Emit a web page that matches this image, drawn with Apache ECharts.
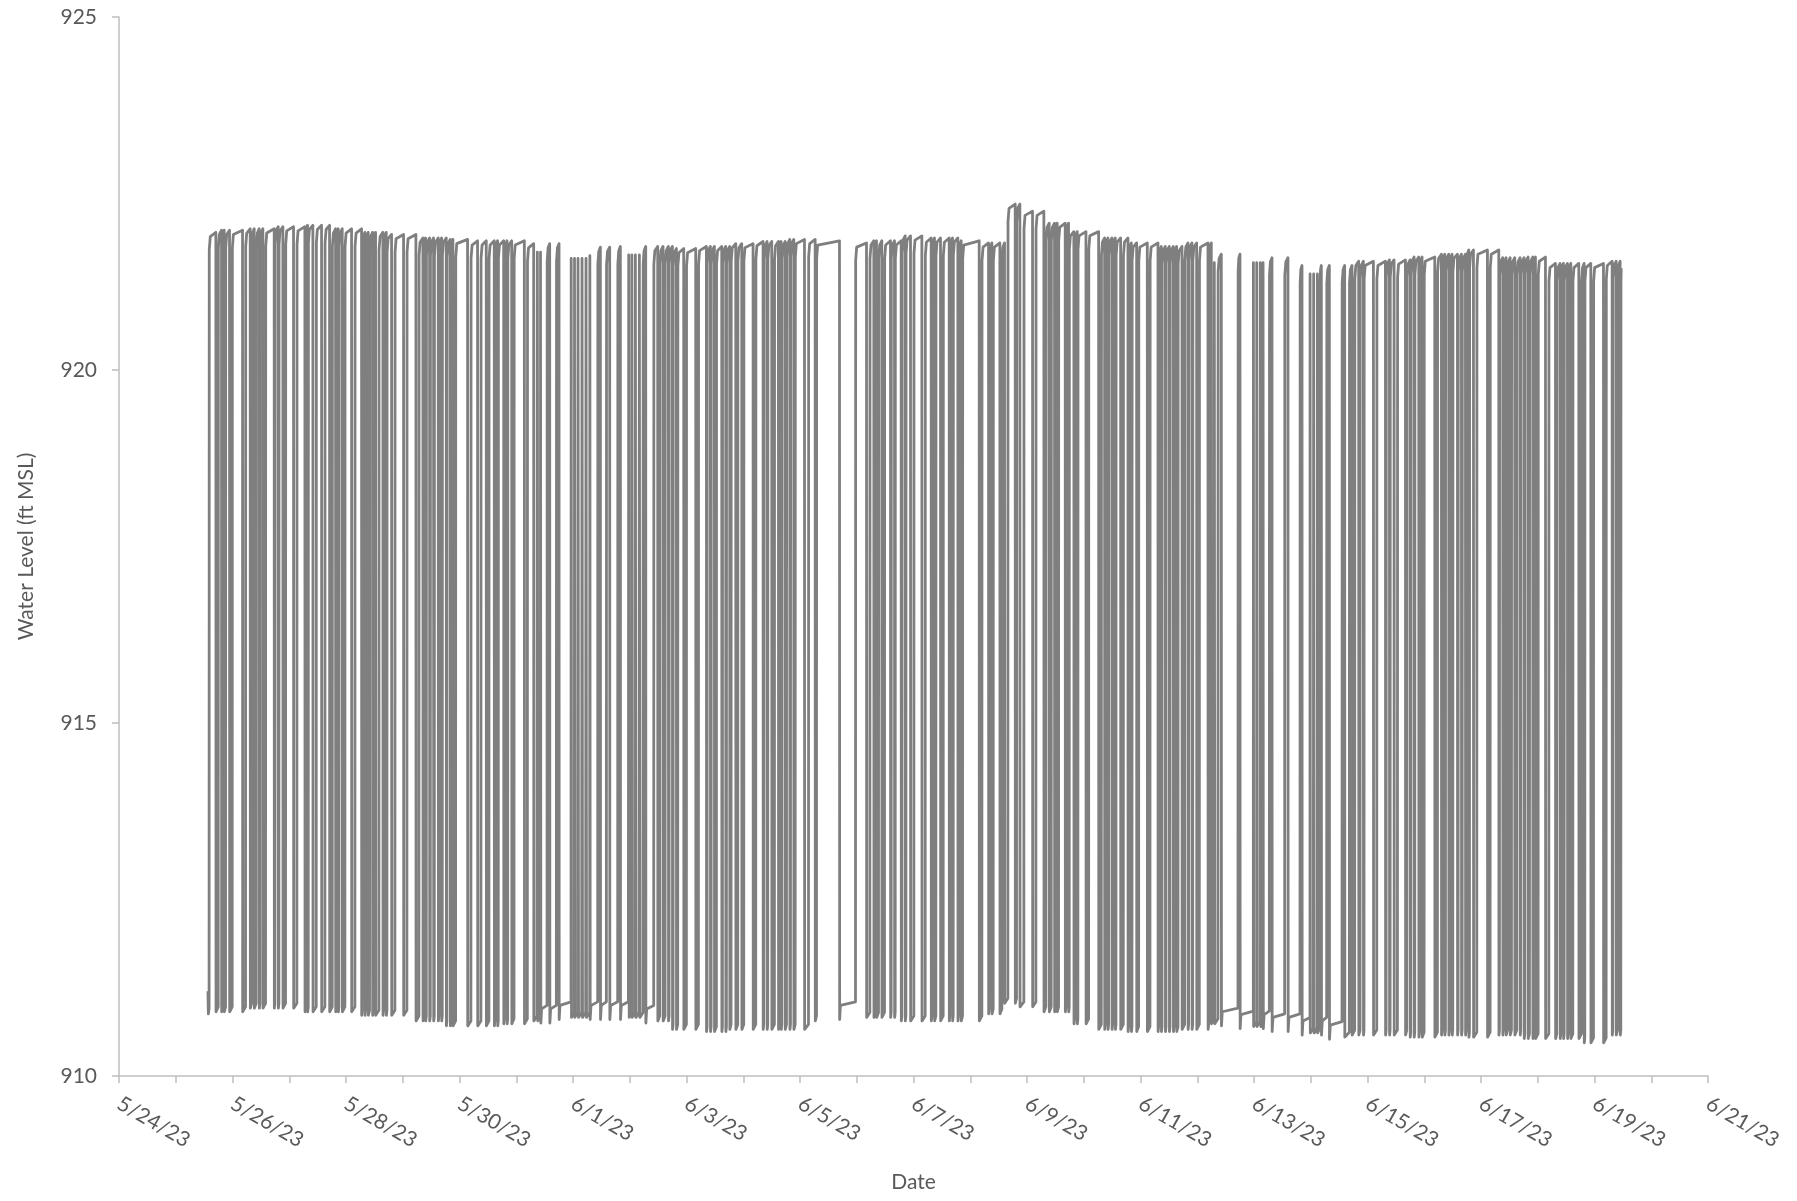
<!DOCTYPE html>
<html>
<head>
<meta charset="utf-8">
<script src="https://cdn.jsdelivr.net/npm/echarts@6/dist/echarts.min.js"></script>
<style>
html,body{margin:0;padding:0;background:#fff;}
#chart{width:1797px;height:1201px;}
</style>
</head>
<body>
<div id="chart"></div>
<script>
// Tick labels (x axis: one every 2 days from 5/24/23, hours since 5/24/23 00:00)
const dateLabels = ['5/24/23','5/26/23','5/28/23','5/30/23','6/1/23','6/3/23','6/5/23','6/7/23','6/9/23','6/11/23','6/13/23','6/15/23','6/17/23','6/19/23','6/21/23'];
const yTicks = [910, 915, 920, 925];

// Record start (hours since 5/24/23 00:00) and first recovery
const startHour = 37.6;
const startLevel = 911.2;
const firstRise = 38.1;
const endHour = 635.3;

// Pumping drawdown periods: start / end (hours since 5/24/23 00:00)
const dipStart = [
40.96,43.36,44.48,46.74,52.24,55.48,57.17,59.29,60.84,65.63,67.33,69.30,73.81,78.61,79.73,81.99,85.66,89.04,91.58,92.71,
94.40,98.35,102.58,103.99,105.40,107.23,108.50,111.60,113.01,115.27,120.34,125.56,128.52,129.65,131.34,133.03,135.01,136.42,138.39,140.08,
141.21,147.41,151.64,155.31,158.69,160.10,162.68,164.09,166.07,171.42,
175.37,177.06,178.33,182.14,186.09,191.30,192.71,194.27,195.96,197.65,199.20,203.57,207.52,212.03,215.70,216.97,218.52,220.21,222.75,
227.82,230.08,232.34,234.03,235.72,238.82,243.90,248.41,250.10,251.79,254.90,256.59,258.28,260.82,263.36,268.15,272.38,274.07,276.05,278.87,
280.02,281.72,283.69,285.38,289.89,294.41,304.70,316.12,319.22,320.35,322.60,326.27,327.96,330.78,332.48,334.73,339.53,343.47,344.88,347.42,
351.09,352.50,354.75,356.16,363.78,367.73,369.14,372.52,374.49,379.01,380.98,386.34,391.13,393.39,395.64,396.77,400.16,401.57,403.82,405.23,
408.93,414.29,416.82,418.23,419.93,421.34,423.59,426.69,428.10,430.36,434.87,439.38,440.79,442.49,444.18,445.87,447.28,449.54,452.07,453.77,
455.74,460.53,
461.94,463.35,466.17,474.07,479.78,481.19,482.81,483.87,487.61,494.37,500.30,503.75,505.37,506.85,508.47,511.86,518.34,521.45,
524.27,526.24,530.50,535.58,537.27,539.24,544.04,546.01,547.70,549.68,551.09,556.44,559.26,560.67,562.37,563.78,566.03,567.72,569.42,570.83,
572.80,578.72,583.52,585.21,586.62,588.31,590.28,592.54,594.23,595.92,597.90,599.03,603.26,607.49,609.46,610.87,612.56,613.97,617.36,619.61,
622.43,627.79,631.46,633.15,634.84
];
const dipEnd = [
41.95,43.66,45.05,47.87,53.51,56.05,58.02,59.59,61.97,65.92,67.61,70.43,75.22,78.91,80.03,83.40,87.07,90.17,91.88,92.99,
95.53,99.76,102.86,104.27,105.96,107.53,109.91,111.90,113.31,116.68,121.75,126.83,128.82,129.95,131.64,133.33,135.29,136.70,138.67,140.38,
142.34,148.82,153.05,156.44,158.99,160.39,162.96,164.37,167.05,172.69,
176.78,178.19,181.01,184.96,191.16,192.57,193.98,195.68,197.37,199.06,202.44,206.11,210.90,215.42,216.83,218.24,219.93,221.62,226.13,
228.67,230.93,232.62,234.31,236.28,239.95,245.03,248.69,250.40,252.64,255.18,256.87,258.84,261.66,264.20,269.28,272.68,274.35,277.17,279.17,
280.32,282.28,283.97,285.95,291.59,294.97,311.47,317.53,319.52,321.20,323.73,326.55,328.25,331.07,332.78,336.14,340.94,343.77,345.45,348.55,
351.37,352.78,355.04,356.73,364.91,368.01,369.70,373.37,375.90,379.57,382.67,387.75,391.98,394.23,395.94,397.34,400.46,401.85,404.12,405.51,
410.06,415.41,417.11,418.52,420.21,421.62,424.72,426.98,428.39,431.21,436.00,439.67,441.08,442.77,444.46,446.17,447.84,450.66,452.36,454.07,
456.87,460.82,
463.07,464.76,473.22,479.71,481.12,482.53,483.80,486.48,492.96,499.45,503.68,505.09,506.78,507.91,510.73,517.22,520.32,522.57,
524.83,526.52,531.91,535.86,537.55,540.65,544.60,546.29,547.98,549.98,551.93,557.57,559.55,560.96,562.67,564.06,566.31,568.02,569.72,571.11,
574.21,579.85,583.80,585.51,587.18,588.87,591.13,592.82,594.53,596.49,598.20,600.15,604.67,608.05,609.76,611.15,612.86,614.82,618.48,619.89,
623.56,628.92,631.74,633.71,635.12
];

// Static (top) and pumping (bottom) water levels, ft MSL, by day since 5/24/23
const envDay = [1.5,2,2.5,3,3.5,4,4.5,5,5.5,6,6.5,7,7.5,8,8.5,9,9.5,10,10.5,11,11.5,12,12.5,13,13.5,14,14.5,15,15.5,15.7,16,16.5,17,17.5,18,18.5,19,19.5,20,20.5,21,21.5,22,22.5,23,23.5,24,24.5,25,25.5,26,26.5];
const topLevel = [921.95,921.98,922.0,922.03,922.05,922.0,921.95,921.92,921.87,921.85,921.83,921.83,921.79,921.7,921.74,921.75,921.75,921.72,921.75,921.79,921.82,921.85,921.83,921.8,921.83,921.9,921.87,921.83,921.8,922.35,922.25,922.08,921.96,921.87,921.8,921.75,921.8,921.64,921.64,921.59,921.48,921.48,921.54,921.56,921.6,921.64,921.7,921.59,921.6,921.51,921.51,921.54];
const bottomLevel = [910.88,910.88,910.93,910.93,910.88,910.88,910.83,910.83,910.75,910.68,910.68,910.71,910.75,910.8,910.8,910.8,910.75,910.63,910.6,910.63,910.63,910.63,910.75,910.8,910.8,910.75,910.75,910.75,910.85,911.0,910.95,910.88,910.71,910.63,910.6,910.6,910.63,910.71,910.67,910.63,910.58,910.52,910.55,910.55,910.52,910.55,910.52,910.55,910.5,910.5,910.44,910.55];

function nearest(vals, hour) {
  const d = hour / 24;
  let bi = 0, bd = Infinity;
  for (let i = 0; i < envDay.length; i++) {
    const dd = Math.abs(envDay[i] - d);
    if (dd < bd) { bd = dd; bi = i; }
  }
  return vals[bi];
}

const pts = [];
function addHigh(e, s) {
  const H = nearest(topLevel, (e + s) / 2);
  const gap = s - e;
  if (gap < 0.4) {
    pts.push([(e + s) / 2, H - 0.12]);
  } else {
    pts.push([e + 0.07, H - 0.25]);
    pts.push([e + Math.min(0.5, gap * 0.4), H - 0.06]);
    pts.push([s, H]);
  }
}
function addDip(s, e) {
  const L = nearest(bottomLevel, (s + e) / 2);
  const d = e - s;
  if (d > 2) {
    pts.push([s + 0.07, L]);
    pts.push([s + 0.4, L + 0.2]);
    pts.push([e, L + 0.25]);
  } else {
    pts.push([s + 0.07, L + 0.03]);
    pts.push([Math.max(e, s + 0.12), L + 0.1]);
  }
}
pts.push([startHour, startLevel]);
pts.push([startHour + 0.2, nearest(bottomLevel, startHour)]);
pts.push([firstRise, nearest(bottomLevel, startHour) + 0.08]);
let prevEnd = firstRise;
for (let i = 0; i < dipStart.length; i++) {
  addHigh(prevEnd, dipStart[i]);
  addDip(dipStart[i], dipEnd[i]);
  prevEnd = dipEnd[i];
}
{
  const H = nearest(topLevel, endHour);
  pts.push([prevEnd + 0.07, H - 0.3]);
  pts.push([endHour, H - 0.1]);
}

const chart = echarts.init(document.getElementById('chart'), null, {renderer: 'canvas'});
const labelColor = '#595959';
const axisColor = '#bfbfbf';
const font = 'Lato';
chart.setOption({
  animation: false,
  backgroundColor: '#ffffff',
  grid: {left: 119, right: 89, top: 17, bottom: 125, containLabel: false},
  xAxis: {
    type: 'value', min: 0, max: 672, interval: 48,
    name: 'Date', nameLocation: 'middle', nameGap: 96,
    nameTextStyle: {color: labelColor, fontFamily: font, fontSize: 21},
    axisLine: {show: true, lineStyle: {color: axisColor, width: 1.5}},
    axisTick: {show: true, length: 7, lineStyle: {color: axisColor, width: 1.5}},
    minorTick: {show: true, splitNumber: 2, length: 7, lineStyle: {color: axisColor, width: 1.5}},
    splitLine: {show: false},
    axisLabel: {
      rotate: -30, margin: 26, color: labelColor, fontFamily: font, fontSize: 21,
      showMinLabel: true, showMaxLabel: true,
      formatter: v => dateLabels[Math.round(v / 48)] || ''
    }
  },
  yAxis: {
    type: 'value', min: yTicks[0], max: yTicks[yTicks.length - 1], interval: 5,
    name: 'Water Level (ft MSL)', nameLocation: 'middle', nameGap: 82,
    nameTextStyle: {color: labelColor, fontFamily: font, fontSize: 21},
    axisLine: {show: true, lineStyle: {color: axisColor, width: 1.5}},
    axisTick: {show: true, length: 7, lineStyle: {color: axisColor, width: 1.5}},
    splitLine: {show: false},
    axisLabel: {margin: 22, color: labelColor, fontFamily: font, fontSize: 21}
  },
  series: [{
    type: 'line', data: pts, showSymbol: false, symbol: 'none',
    sampling: null, smooth: false,
    lineStyle: {color: '#7f7f7f', width: 2.8, join: 'round'},
    itemStyle: {color: '#7f7f7f'}
  }]
});
</script>
</body>
</html>
